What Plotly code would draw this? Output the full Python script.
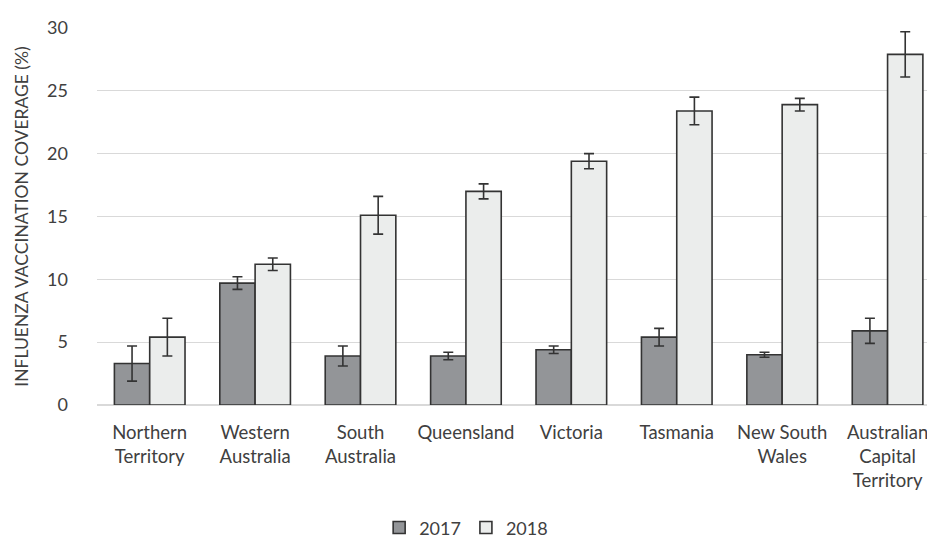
import plotly.graph_objects as go

categories = ["Northern<br>Territory", "Western<br>Australia", "South<br>Australia", "Queensland",
              "Victoria", "Tasmania", "New South<br>Wales", "Australian<br>Capital<br>Territory"]
v2017 = [3.3, 9.7, 3.9, 3.9, 4.4, 5.4, 4.0, 5.9]
e2017 = [1.4, 0.5, 0.8, 0.3, 0.3, 0.7, 0.2, 1.0]
v2018 = [5.4, 11.2, 15.1, 17.0, 19.4, 23.4, 23.9, 27.9]
e2018 = [1.5, 0.5, 1.5, 0.6, 0.6, 1.1, 0.5, 1.8]
y_ticks = [0, 5, 10, 15, 20, 25, 30]

FONT = "Lato"
TXT = "#404040"

fig = go.Figure()
fig.add_trace(go.Bar(
    x=categories, y=v2017, name="2017",
    marker=dict(color="#939598", line=dict(color="#333333", width=1.6)),
    error_y=dict(type="data", array=e2017, visible=True, color="#333333", thickness=1.6, width=5),
))
fig.add_trace(go.Bar(
    x=categories, y=v2018, name="2018",
    marker=dict(color="#ebedec", line=dict(color="#333333", width=1.6)),
    error_y=dict(type="data", array=e2018, visible=True, color="#333333", thickness=1.6, width=5),
))

# page body has an 8px margin: layout is offset to compensate
fig.update_layout(
    width=935, height=537,
    margin=dict(l=89, r=8, t=15, b=140),
    paper_bgcolor="white", plot_bgcolor="white",
    barmode="group", bargap=0.33, bargroupgap=0,
    font=dict(family=FONT, color=TXT, size=18),
    showlegend=True,
    legend=dict(orientation="h", xref="container", yref="container",
                x=0.49, xanchor="center", y=0.032, yanchor="middle",
                font=dict(size=18, color=TXT), itemwidth=30,
                traceorder="normal"),
    xaxis=dict(range=[-0.5, 7.45], showgrid=False, showline=False, ticks="",
               tickfont=dict(size=18.5, color=TXT), ticklabelstandoff=14),
    yaxis=dict(range=[0, 30], tickvals=y_ticks, showgrid=True, gridcolor="#d9d9d9",
               gridwidth=1, zeroline=True, zerolinecolor="#d9d9d9", zerolinewidth=1.5,
               showline=False, ticks="", tickfont=dict(size=18, color=TXT),
               ticklabelstandoff=28,
               title=dict(text="INFLUENZA VACCINATION COVERAGE (%)",
                          font=dict(size=17.5, color=TXT), standoff=13)),
)

fig.write_html("out.html")
